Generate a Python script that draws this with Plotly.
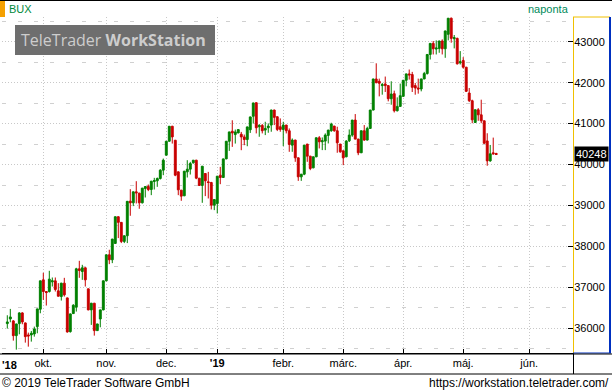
import pandas as pd
import plotly.graph_objects as go

# ---------------- data ----------------
holidays = ["2018-10-22", "2018-10-23", "2018-11-01", "2018-11-02", "2018-12-24",
            "2018-12-25", "2018-12-26", "2018-12-31", "2019-01-01", "2019-03-15",
            "2019-04-19", "2019-04-22", "2019-05-01", "2019-06-10"]
trading_days = [d.strftime("%Y-%m-%d") for d in
                pd.bdate_range("2018-09-13", "2019-06-28", freq="C", holidays=holidays)]

open_ = [36114, 36228, 36180, 35820, 36114, 36375, 36131, 35837, 35837, 35861,
         36041, 36465, 37183, 36898, 36898, 37134, 37159, 36914, 36775, 37102,
         36742, 35918, 36359, 36514, 37453, 37387, 37477, 36963, 36449, 36612,
         35943, 36228, 36449, 37159, 37795, 37673, 38073, 38725, 38587, 38122,
         38260, 39106, 39065, 39333, 39301, 39065, 39415, 39463, 39390, 39585,
         39602, 39658, 39862, 40228, 40569, 40935, 40594, 39821, 39374, 39236,
         39821, 39886, 40041, 40106, 39667, 39488, 39781, 39577, 39561, 39008,
         39049, 39740, 39683, 40138, 40569, 40813, 40732, 40772, 40740, 40675,
         40610, 40850, 41179, 41510, 40923, 40956, 40841, 40898, 40964, 41331,
         41168, 40923, 40858, 40964, 40825, 40474, 40597, 40164, 39699, 39764,
         40499, 40205, 39919, 40188, 40654, 40556, 40572, 40711, 40825, 40939,
         40825, 40499, 40335, 40188, 40580, 40719, 41086, 40621, 40287, 40825,
         40597, 40882, 41331, 42090, 42034, 41928, 41969, 41928, 41608, 41731,
         41313, 41420, 41665, 42059, 42214, 42198, 41928, 41870, 41846, 42091,
         42222, 42689, 42959, 42820, 42837, 43017, 42828, 43181, 43574, 43074,
         43082, 42484, 42542, 42378, 41747, 41559, 41027, 41338, 41215, 41068,
         40576, 40089, 40286, 40270]
high = [36318, 36473, 36200, 36110, 36392, 36392, 36140, 35894, 35935, 36041,
        36480, 37165, 37355, 36900, 37404, 37240, 37240, 37102, 37110, 37232,
        36750, 36360, 36588, 37477, 37648, 37550, 37490, 36970, 36620, 36620,
        36110, 36455, 37165, 37800, 37918, 38185, 38730, 38735, 38595, 38265,
        39110, 39398, 39340, 39593, 39310, 39430, 39470, 39512, 39600, 39675,
        39683, 39886, 40146, 40575, 40940, 40945, 40600, 39830, 39380, 39845,
        40106, 40065, 40110, 40115, 39670, 39965, 39790, 39821, 39577, 39150,
        39720, 39943, 40145, 40575, 40800, 41081, 40854, 40860, 40797, 40732,
        40925, 41170, 41510, 41520, 40988, 40988, 41045, 41005, 41340, 41340,
        41175, 41127, 41045, 40970, 40882, 40637, 40605, 40170, 39770, 40480,
        40505, 40210, 40195, 40660, 40695, 40662, 40760, 40848, 41021, 40945,
        40923, 40505, 40340, 40597, 40858, 41090, 41233, 40630, 40830, 40964,
        40923, 41335, 42095, 42473, 42099, 41993, 42149, 41935, 42034, 41805,
        41641, 41977, 42065, 42220, 42321, 42263, 41993, 42099, 42095, 42263,
        42695, 42965, 43017, 43033, 43025, 43058, 43270, 43580, 43590, 43164,
        43099, 42771, 42624, 42385, 41870, 41584, 41345, 41379, 41584, 41075,
        40764, 40478, 40658, 40286]
low = [35992, 36147, 35698, 35478, 35853, 36098, 35649, 35551, 35674, 35796,
       35878, 36367, 36694, 36555, 36873, 37020, 36898, 36775, 36677, 36775,
       35894, 35894, 36351, 36408, 37232, 37183, 37020, 36440, 36082, 35820,
       35935, 36024, 36440, 37150, 37567, 37591, 38065, 38203, 38081, 38081,
       38081, 38748, 38984, 39049, 38919, 39049, 39195, 39350, 39252, 39390,
       39455, 39634, 39740, 40220, 40560, 40512, 39715, 39252, 39114, 39228,
       39683, 39756, 40024, 39642, 39480, 39065, 39228, 39171, 38902, 38886,
       38805, 39520, 39675, 40130, 40333, 40431, 40512, 40765, 40350, 40472,
       40447, 40772, 41000, 40760, 40678, 40760, 40719, 40776, 40801, 40964,
       40817, 40801, 40450, 40760, 40311, 40311, 40066, 39601, 39601, 39740,
       40066, 39862, 39910, 40180, 40393, 40352, 40352, 40515, 40801, 40801,
       40287, 40287, 39985, 40180, 40550, 40678, 40615, 40229, 40280, 40580,
       40590, 40875, 41325, 41984, 41665, 41706, 41772, 41543, 41461, 41272,
       41297, 41415, 41660, 41911, 42075, 41772, 41706, 41731, 41788, 42085,
       42198, 42566, 42689, 42689, 42730, 42689, 42607, 43033, 42976, 42837,
       42444, 42444, 42345, 41772, 41526, 41010, 41020, 41068, 41010, 40510,
       39970, 40068, 40245, 40232]
close = [36155, 36277, 35820, 36106, 36375, 36155, 35796, 35812, 35878, 35984,
         36473, 37159, 36898, 36873, 37200, 37159, 36947, 36783, 37102, 36816,
         35910, 36351, 36563, 37453, 37412, 37477, 37183, 36449, 36612, 35943,
         36106, 36449, 37159, 37795, 37673, 38179, 38725, 38587, 38122, 38260,
         39101, 39065, 39333, 39309, 39065, 39423, 39463, 39390, 39593, 39609,
         39658, 39862, 40106, 40569, 40935, 40675, 39740, 39382, 39228, 39837,
         39886, 40024, 40106, 39667, 39488, 39959, 39602, 39561, 39008, 39146,
         39716, 39683, 40138, 40569, 40797, 40772, 40797, 40854, 40675, 40610,
         40919, 41163, 41504, 40898, 40956, 40825, 40882, 40939, 41331, 41152,
         40858, 40858, 40964, 40825, 40491, 40597, 40164, 39699, 39764, 40474,
         40205, 39903, 40188, 40654, 40556, 40580, 40719, 40841, 40988, 40825,
         40531, 40311, 40164, 40572, 40719, 41086, 40621, 40287, 40825, 40597,
         40882, 41331, 42090, 42000, 41985, 41952, 41928, 41608, 41723, 41313,
         41420, 41682, 42059, 42214, 42190, 41887, 41870, 41846, 42091, 42222,
         42689, 42959, 42828, 42845, 43017, 42828, 43263, 43574, 43082, 43099,
         42460, 42509, 42378, 41788, 41559, 41092, 41338, 41215, 41068, 40519,
         40089, 40261, 40261, 40248]

month_ticks = ["2018-10-01", "2018-11-05", "2018-12-03", "2019-01-02", "2019-02-01",
               "2019-03-01", "2019-04-01", "2019-05-02", "2019-06-03"]
month_labels = ["okt.", "nov.", "dec.", "<b>'19</b>", "febr.", "márc.", "ápr.", "máj.", "jún."]

dates = trading_days[:len(close)]

# ---------------- figure ----------------
GREEN = "#008000"
RED = "#c80000"
FONT = "Liberation Sans, Arial, sans-serif"

fig = go.Figure()
fig.add_trace(go.Candlestick(
    x=dates, open=open_, high=high, low=low, close=close,
    increasing=dict(line=dict(color=GREEN, width=1), fillcolor=GREEN),
    decreasing=dict(line=dict(color=RED, width=1), fillcolor=RED),
    whiskerwidth=0, showlegend=False, hoverinfo="skip"))

yr = [35396, 43604]
fig.update_layout(
    width=612, height=392,
    margin=dict(l=2, r=39, t=17, b=39, pad=0),
    paper_bgcolor="white", plot_bgcolor="white",
    font=dict(family=FONT, size=11, color="black"),
    boxgap=0.1,
    hovermode=False,
    xaxis=dict(
        type="category", categoryorder="array", categoryarray=trading_days,
        range=[-1.77, 188.6], rangeslider=dict(visible=False),
        tickmode="array", tickvals=month_ticks, ticktext=month_labels,
        showgrid=True, gridcolor="#c8c8c8", griddash="1px,2px", gridwidth=1,
        ticks="inside", ticklen=4, tickcolor="black",
        showline=True, linecolor="black", linewidth=1,
        tickfont=dict(size=11, family=FONT, color="black"), zeroline=False),
    yaxis=dict(
        side="right", range=yr, dtick=1000, tick0=0,
        showgrid=True, gridcolor="#c8c8c8", griddash="1px,2px",
        ticks="inside", ticklen=5, tickcolor="black",
        showline=True, linecolor="#f0c000", linewidth=1,
        tickfont=dict(size=11, family=FONT, color="black"),
        ticklabelstandoff=-2,
        minor=dict(dtick=500, tick0=0, showgrid=True, gridcolor="#d0d0d0",
                   griddash="4px,12px", ticks="", ticklen=0),
        zeroline=False, tickformat="d"),
    yaxis2=dict(overlaying="y", side="right", anchor="x", range=yr,
                showgrid=False, showticklabels=False, ticks="", zeroline=False,
                minor=dict(dtick=100, tick0=0, ticks="inside", ticklen=3,
                           tickcolor="black", showgrid=False)),
    yaxis3=dict(overlaying="y", side="left", anchor="x", range=yr,
                showgrid=False, showticklabels=False, dtick=1000, tick0=0,
                ticks="inside", ticklen=5, tickcolor="black",
                showline=True, linecolor="black", linewidth=1, zeroline=False,
                minor=dict(dtick=100, tick0=0, ticks="inside", ticklen=3,
                           tickcolor="black", showgrid=False)),
)

def px(x):
    return (x - 2) / 571.0

def py(y):
    return (353 - y) / 336.0

shapes = [
    # top border
    dict(type="line", x0=px(0), x1=px(612), y0=py(0.5), y1=py(0.5), line=dict(color="black", width=1)),
    # orange marker
    dict(type="rect", x0=px(0), x1=px(5), y0=py(1), y1=py(17), fillcolor="#f5a000", line=dict(width=0)),
    # right axis box
    dict(type="line", x0=px(573), x1=px(610), y0=py(17), y1=py(17), line=dict(color="#f0c000", width=1)),
    dict(type="line", x0=px(610), x1=px(610), y0=py(17), y1=py(353), line=dict(color="#0030c0", width=2)),
    dict(type="line", x0=px(573), x1=px(611), y0=py(353), y1=py(353), line=dict(color="#0030c0", width=1)),
    # bottom band
    dict(type="line", x0=px(0), x1=px(612), y0=py(354), y1=py(354), line=dict(color="black", width=1)),
    dict(type="line", x0=px(0), x1=px(612), y0=py(374), y1=py(374), line=dict(color="black", width=1)),
    dict(type="line", x0=px(573.5), x1=px(573.5), y0=py(354), y1=py(374), line=dict(color="black", width=1)),
    # watermark box
    dict(type="rect", x0=px(15), x1=px(215), y0=py(55), y1=py(25), fillcolor="#6e6e6e", line=dict(width=0)),
]
for s in shapes:
    s.update(xref="paper", yref="paper", layer="above")
fig.update_layout(shapes=shapes)

ann = [
    dict(x=px(7), y=py(9), text="BUX", xanchor="left", yanchor="middle",
         font=dict(size=11, color="#008a3c", family=FONT)),
    dict(x=px(571), y=py(9), text="naponta", xanchor="right", yanchor="middle",
         font=dict(size=11, color="#008a5a", family=FONT)),
    dict(x=px(113), y=py(40), text="TeleTrader <b>WorkStation</b>", xanchor="center", yanchor="middle",
         font=dict(size=16, color="#cdcdcd", family="Open Sans, DejaVu Sans, sans-serif")),
    dict(x=px(0), y=py(365), text="<b>'18</b>", xanchor="left", yanchor="middle",
         font=dict(size=11, color="black", family=FONT)),
    dict(x=px(0), y=py(383), text="© 2019 TeleTrader Software GmbH", xanchor="left", yanchor="middle",
         font=dict(size=12, color="black", family=FONT)),
    dict(x=px(611), y=py(383), text="https://workstation.teletrader.com/", xanchor="right", yanchor="middle",
         font=dict(size=12, color="black", family=FONT)),
    dict(x=px(574), y=close[-1], yref="y", text=str(close[-1]), xanchor="left", yanchor="middle",
         bgcolor="black", borderpad=1, font=dict(size=11, color="white", family=FONT)),
]
for a in ann:
    a.setdefault("yref", "paper")
    a.update(xref="paper", showarrow=False)
fig.update_layout(annotations=ann)

fig.write_html("out.html", config={"displayModeBar": False},
               post_script="document.body.style.margin='0';document.body.style.padding='0';")
